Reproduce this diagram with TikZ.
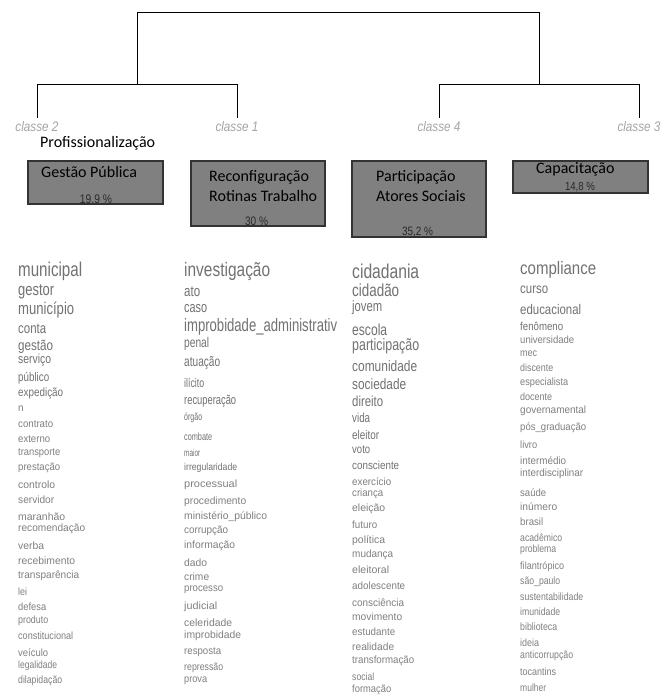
\documentclass[tikz,border=0pt]{standalone}
\usepackage{fontspec}
\usepackage{graphicx}
\setmainfont{Carlito}
\newfontfamily\wordfont{Liberation Sans}
\definecolor{wordA}{HTML}{727272}
\definecolor{wordB}{HTML}{808080}
\definecolor{clsgray}{HTML}{A4A4A4}
\definecolor{boxfill}{HTML}{808080}
\definecolor{boxline}{HTML}{333333}
\definecolor{pctcol}{HTML}{2A2A2A}
% width #1 (pt), font size #2 (pt), text #3
\newcommand\wrdbox[3]{\resizebox{#1pt}{\height}{\fontsize{#2}{#2}\selectfont\wordfont #3}}
\newcommand\nwrd[2]{\resizebox{#1pt}{!}{\scalebox{0.82}[1]{\wordfont #2}}}
\newcommand\clsw[2]{\resizebox{#1pt}{!}{\scalebox{0.85}[1]{\wordfont\itshape #2}}}
\begin{document}
\begin{tikzpicture}[x=1pt,y=-1pt,
  dendro/.style={line width=0.9pt, draw=black},
  cls/.style={inner sep=0pt, text=clsgray},
  catbox/.style={draw=boxline, fill=boxfill, line width=1.1pt, inner sep=0pt},
  lbl/.style={inner sep=0pt, anchor=base west, text=black, font=\fontsize{16}{19}\selectfont},
  pct/.style={inner sep=0pt, text=pctcol},
  wordn/.style={inner sep=0pt, anchor=west, text=wordA},
  wordr/.style={inner sep=0pt, anchor=west, text=wordB}]
\useasboundingbox (0,0) rectangle (661,695);
\fill[white] (0,0) rectangle (661,695);

% dendrogram
\coordinate (r2) at (37,118);
\coordinate (r1) at (237,118);
\coordinate (r4) at (439,118);
\coordinate (r3) at (639.5,118);
\coordinate (jL) at (137,84.3);
\coordinate (jR) at (539,84.3);
\coordinate (tp) at (338,12.7);
\draw[dendro] (r2) |- (jL) -| (r1);
\draw[dendro] (r4) |- (jR) -| (r3);
\draw[dendro] (jL) |- (tp) -| (jR);

\node[cls] (cl2) at (37,127) {\clsw{43}{classe 2}};
\node[cls] (cl1) at (237,127) {\clsw{43}{classe 1}};
\node[cls] (cl4) at (439,127) {\clsw{43}{classe 4}};
\node[cls] (cl3) at (639,127) {\clsw{43}{classe 3}};

% category boxes
\node[catbox, minimum width=135pt, minimum height=43pt] (box2) at (95.5,182.5) {};
\node[catbox, minimum width=134pt, minimum height=65pt] (box1) at (258,193.5) {};
\node[catbox, minimum width=134pt, minimum height=76pt] (box4) at (419,199) {};
\node[catbox, minimum width=135pt, minimum height=32pt] (box3) at (580.5,177) {};

\node[lbl] (t2a) at (40,148) {Profissionalização};
\node[lbl] (t2b) at (41,177) {Gestão Pública};
\node[lbl] (t1a) at (209,181) {Reconfiguração};
\node[lbl] (t1b) at (209,201.7) {Rotinas Trabalho};
\node[lbl] (t4a) at (376,181.7) {Participação};
\node[lbl] (t4b) at (376,201.7) {Atores Sociais};
\node[lbl] (t3a) at (536,174) {Capacitação};

\node[pct] (p2) at (96,199.5) {\nwrd{32}{19,9 \%}};
\node[pct] (p1) at (256.5,221.5) {\nwrd{23}{30 \%}};
\node[pct] (p4) at (417.5,232) {\nwrd{31}{35,2 \%}};
\node[pct] (p3) at (580,187.5) {\nwrd{30}{14,8 \%}};

% column 1
\foreach \yy/\ww/\ss/\wtxt [count=\i] in {271.7/64/20/municipal, 291.7/36/17/gestor, 310/56/17/município, 329/28/14.5/conta, 346.7/35/14.5/gestão, 360/33/13/serviço, 377.7/31/12.5/público, 393/45/12/expedição}
  \node[wordn] (an\i) at (18,\yy) {\wrdbox{\ww}{\ss}{\wtxt}};
\foreach \yy/\ww/\wtxt [count=\i] in {409/5.5/n, 424/35/contrato, 439/32/externo, 453/42/transporte, 468/42/prestação, 485/37/controlo, 500/36/servidor, 516.7/47/maranhão, 529/67/recomendação, 546/26/verba, 560.7/57/recebimento, 576/61/transparência, 591.7/9/lei, 606.7/28/defesa, 620.7/30/produto, 636/55/constitucional, 652.7/30/veículo, 666/39/legalidade, 680.7/44/dilapidação}
  \node[wordr] (ar\i) at (18,\yy) {\wrdbox{\ww}{10.5}{\wtxt}};

% column 2
\foreach \yy/\ww/\ss/\wtxt [count=\i] in {271.7/86/19.5/investigação, 292/16/15/ato, 309/23/15/caso, 326.7/153/18/improbidade\_administrativ, 344/25/14/penal, 363/36/14/atuação, 383/20/12.5/ilícito, 401/52/13/recuperação, 418/18/10.5/órgão, 436.7/28/10.5/combate, 453/16/10/maior, 468/53/10/irregularidade}
  \node[wordn] (bn\i) at (184,\yy) {\wrdbox{\ww}{\ss}{\wtxt}};
\foreach \yy/\ww/\wtxt [count=\i] in {485/53/processual, 502/62/procedimento, 517/83/ministério\_público, 531/44/corrupção, 546/51/informação, 563/23/dado, 577/25/crime, 590/39/processo, 607/33/judicial, 623/48/celeridade, 636/57/improbidade, 652/37/resposta, 668/39/repressão, 681/23/prova}
  \node[wordr] (br\i) at (184,\yy) {\wrdbox{\ww}{10.5}{\wtxt}};

% column 3
\foreach \yy/\ww/\ss/\wtxt [count=\i] in {271.7/67/20/cidadania, 290.7/47/17.5/cidadão, 308/30/15/jovem, 330/35/16/escola, 346.7/67/16.5/participação, 366/65/15/comunidade, 384/54/15/sociedade, 401.7/31/14.5/direito, 418/18/13/vida, 435/27/12.5/eleitor, 450/18/12/voto, 465/47/11.5/consciente}
  \node[wordn] (cn\i) at (352,\yy) {\wrdbox{\ww}{\ss}{\wtxt}};
\foreach \yy/\ww/\wtxt [count=\i] in {481.7/39/exercício, 494/31/criança, 509/33/eleição, 525/25/futuro, 540.7/33/política, 555/41/mudança, 570/37/eleitoral, 586/53/adolescente, 602.7/52/consciência, 616.7/50/movimento, 632/43/estudante, 646.7/42/realidade, 660.7/62/transformação, 676.7/22/social, 690/39/formação}
  \node[wordr] (cr\i) at (352,\yy) {\wrdbox{\ww}{10.5}{\wtxt}};

% column 4
\foreach \yy/\ww/\ss/\wtxt [count=\i] in {270/76/18/compliance, 290/28/14/curso, 309/61/14/educacional, 326/43/11.5/fenômeno}
  \node[wordn] (dn\i) at (520,\yy) {\wrdbox{\ww}{\ss}{\wtxt}};
\foreach \yy/\ww/\wtxt [count=\i] in {340/54/universidade, 354/17/mec, 368/33/discente, 383/48/especialista, 397/32/docente, 411/66/governamental, 428/66/pós\_graduação, 445/17/livro, 461/46/intermédio, 474/63/interdisciplinar, 492.7/26/saúde, 507/37/inúmero, 521.7/23/brasil, 537.7/42/acadêmico, 550/36/problema, 566.7/44/filantrópico, 581.7/40/são\_paulo, 596.7/63/sustentabilidade, 611.7/40/imunidade, 626.7/37/biblioteca, 642.7/19/ideia, 656/53/anticorrupção, 671.7/36/tocantins, 687.3/26/mulher}
  \node[wordr] (dr\i) at (520,\yy) {\wrdbox{\ww}{10.5}{\wtxt}};
\end{tikzpicture}
\end{document}
